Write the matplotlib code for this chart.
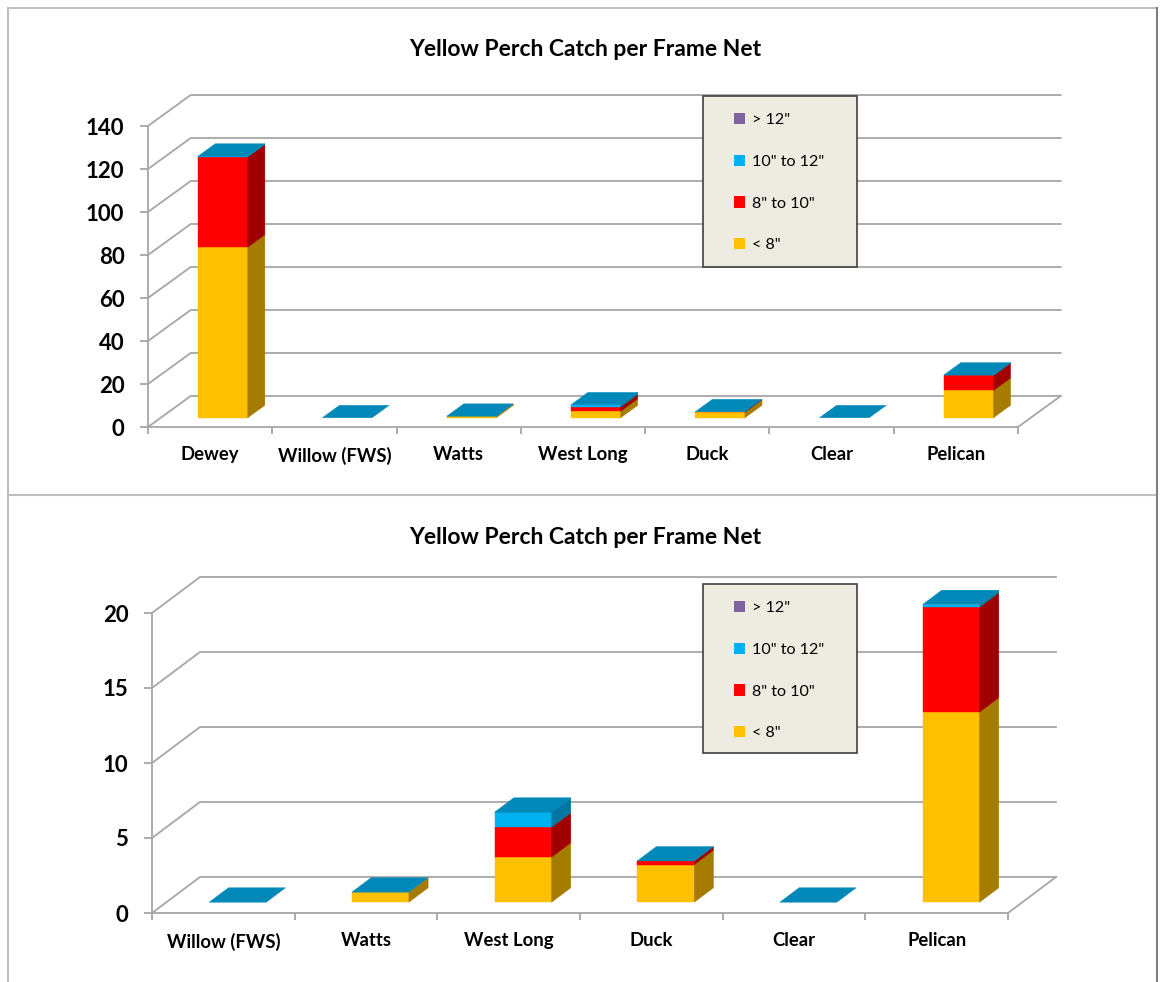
import numpy as np
import matplotlib.pyplot as plt
from matplotlib.patches import Polygon, Rectangle, Patch
from matplotlib.lines import Line2D

plt.rcParams['font.family'] = ['Lato', 'DejaVu Sans']

# yellow perch catch per frame net, by lake and length class
sites = ['Dewey', 'Willow (FWS)', 'Watts', 'West Long', 'Duck', 'Clear', 'Pelican']
lt8 = [79.3, 0, 0.67, 3.0, 2.5, 0, 12.67]
in8to10 = [42.0, 0, 0, 2.0, 0.25, 0, 7.0]
in10to12 = [0.33, 0, 0, 1.0, 0, 0, 0.17]
gt12 = [0, 0, 0, 0, 0, 0, 0]
names = ['< 8"', '8" to 10"', '10" to 12"', '> 12"']

yticks_all = [0, 20, 40, 60, 80, 100, 120, 140]
yticks_zoom = [0, 5, 10, 15, 20]

front_cols = ['#FFC000', '#FF0000', '#00B0F0', '#8064A2']
side_cols = ['#A67C00', '#A00000', '#0077A3', '#553F70']
top_col = '#0088B8'
grid_col = '#A6A6A6'

W, H = 1161, 982
fig = plt.figure(figsize=(W / 100, H / 100), dpi=100)


def chart(labels, stacks, yticks, box, depth, title_y, leg_box):
    left, right, y0, y1 = box
    ax = fig.add_axes([left / W, 1 - y0 / H, (right - left) / W, (y0 - y1) / H])
    n = len(labels)
    ymax = yticks[-1]
    ax.set_xlim(0, n)
    ax.set_ylim(0, ymax)
    ddx = depth[0] * n / (right - left)
    ddy = depth[1] * ymax / (y0 - y1)

    def p(x, v, d):
        return (x + d * ddx, v + d * ddy)

    # back wall gridlines + left wall diagonals
    for v in yticks:
        pts = [p(0, v, 0), p(0, v, 1), p(n, v, 1)]
        ax.plot([q[0] for q in pts], [q[1] for q in pts], color=grid_col, lw=1.3,
                clip_on=False, zorder=1)
    pts = [p(n, 0, 0), p(n, 0, 1)]
    ax.plot([q[0] for q in pts], [q[1] for q in pts], color=grid_col, lw=1.3,
            clip_on=False, zorder=1)

    # bars, front depth 0.3 -> back depth 0.7
    f, b = 0.3, 0.7
    for i in range(n):
        x0, x1 = i + 0.3, i + 0.7
        base = 0.0
        for vals, fc, sc in zip(stacks, front_cols, side_cols):
            h = vals[i]
            if h > 0:
                v0, v1 = base, base + h
                ax.add_patch(Polygon([p(x0, v0, f), p(x1, v0, f), p(x1, v1, f), p(x0, v1, f)],
                                     closed=True, fc=fc, ec=fc, lw=0.3, zorder=3, clip_on=False))
                ax.add_patch(Polygon([p(x1, v0, f), p(x1, v0, b), p(x1, v1, b), p(x1, v1, f)],
                                     closed=True, fc=sc, ec=sc, lw=0.3, zorder=3, clip_on=False))
            base += h
        ax.add_patch(Polygon([p(x0, base, f), p(x1, base, f), p(x1, base, b), p(x0, base, b)],
                             closed=True, fc=top_col, ec=top_col, lw=0.3, zorder=4, clip_on=False))

    for s in ['top', 'right']:
        ax.spines[s].set_visible(False)
    for s in ['left', 'bottom']:
        ax.spines[s].set_color(grid_col)
        ax.spines[s].set_linewidth(1.3)
    ax.set_yticks(yticks)
    ax.set_yticklabels([str(v) for v in yticks], fontweight='bold', fontsize=16)
    ax.set_xticks(np.arange(n) + 0.5)
    ax.set_xticklabels(labels, fontweight='bold', fontsize=13.3)
    ax.set_xticks(np.arange(n + 1), minor=True)
    ax.tick_params(axis='y', length=6, color=grid_col, width=1.3, pad=11)
    ax.tick_params(axis='x', which='major', length=0, pad=14)
    ax.tick_params(axis='x', which='minor', length=5, color=grid_col, width=1.3)
    ax.patch.set_alpha(0)

    fig.text(585 / W, 1 - title_y / H, 'Yellow Perch Catch per Frame Net',
             ha='center', va='center', fontsize=16.5, fontweight='bold')

    lx0, ly0, lx1, ly1 = leg_box
    fig.add_artist(Rectangle((lx0 / W, 1 - ly1 / H), (lx1 - lx0) / W, (ly1 - ly0) / H,
                             transform=fig.transFigure, fc='#EEECE1', ec='#404040', lw=1.2))
    handles = [Patch(fc=c, ec='none') for c in front_cols][::-1]
    fig.legend(handles, names[::-1], loc='upper left',
               bbox_to_anchor=((lx0 + 23) / W, 1 - (ly0 + 9) / H),
               frameon=False, fontsize=11.6, labelspacing=1.7,
               handlelength=0.7, handleheight=0.7, handletextpad=0.4, borderpad=0)


chart(sites, [lt8, in8to10, in10to12, gt12], yticks_all,
      (148, 1018, 427, 126), (42.7, 31), 50, (703, 96, 857, 267))

chart(sites[1:], [s[1:] for s in [lt8, in8to10, in10to12, gt12]], yticks_zoom,
      (152, 1008, 913, 613), (48, 36), 537, (703, 584, 857, 753))

# worksheet frame lines
frame = '#BFBFBF'
fig.add_artist(Line2D([8 / W, 8 / W], [0, 1 - 8 / H], color=frame, lw=1.5))
fig.add_artist(Line2D([8 / W, 1157 / W], [1 - 8 / H, 1 - 8 / H], color=frame, lw=1.5))
fig.add_artist(Line2D([8 / W, 1157 / W], [1 - 495 / H, 1 - 495 / H], color=frame, lw=1.5))
fig.add_artist(Line2D([1157 / W, 1157 / W], [0, 1 - 8 / H], color='#7F7F7F', lw=1.5))

fig.savefig('out.png', dpi=100)
